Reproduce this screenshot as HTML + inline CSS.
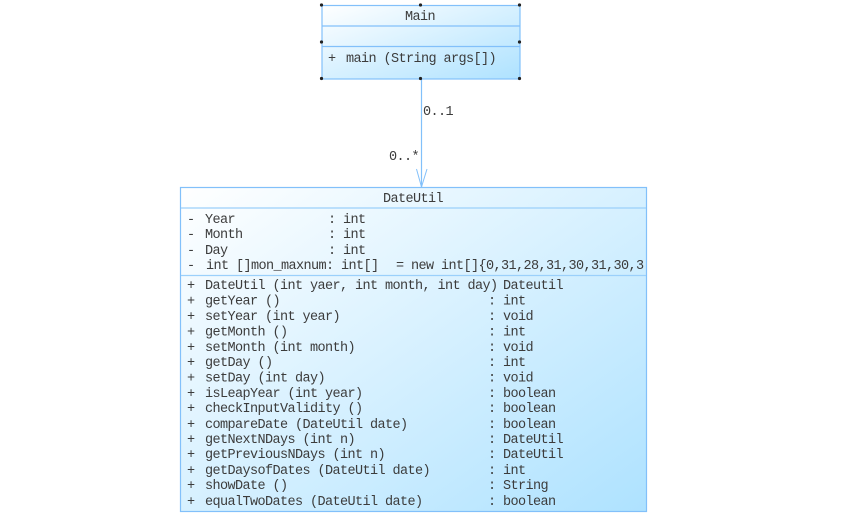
<!DOCTYPE html>
<html>
<head>
<meta charset="utf-8">
<style>
html,body{margin:0;padding:0;background:#fff;}
svg{display:block;}
text{font-family:"Liberation Mono",monospace;font-size:13.5px;letter-spacing:-0.6px;fill:#3c3c3c;white-space:pre;}
</style>
</head>
<body>
<svg width="865" height="515" viewBox="0 0 865 515" xmlns="http://www.w3.org/2000/svg">
<defs>
<linearGradient id="g1" x1="0" y1="0" x2="1" y2="1">
<stop offset="0" stop-color="#ffffff"/>
<stop offset="1" stop-color="#aee2ff"/>
</linearGradient>
<clipPath id="c"><rect x="181" y="188" width="465" height="323"/></clipPath>
</defs>

<!-- connector -->
<line x1="421.5" y1="79" x2="421.5" y2="187" stroke="#82c0fa" stroke-width="1.2"/>
<polyline points="416.5,169 421.5,187 427,169" fill="none" stroke="#82c0fa" stroke-width="1"/>
<text x="423" y="115">0..1</text>
<text x="389" y="160">0..*</text>

<!-- Main -->
<rect x="322" y="5.5" width="198" height="73.5" fill="url(#g1)" stroke="#82c0fa" stroke-width="1.2"/>
<line x1="322" y1="26" x2="520" y2="26" stroke="#82c0fa" stroke-width="1.2"/>
<line x1="322" y1="46.5" x2="520" y2="46.5" stroke="#82c0fa" stroke-width="1.2"/>
<text x="405" y="20">Main</text>
<text x="328" y="62">+</text>
<text x="346" y="62">main (String args[])</text>
<g fill="#222">
<circle cx="321.5" cy="5" r="1.6"/>
<circle cx="420.5" cy="5" r="1.6"/>
<circle cx="519.5" cy="5" r="1.6"/>
<circle cx="321.5" cy="42" r="1.6"/>
<circle cx="519.5" cy="42" r="1.6"/>
<circle cx="321.5" cy="78.500" r="1.6"/>
<circle cx="420.5" cy="78.500" r="1.6"/>
<circle cx="519.5" cy="78.500" r="1.6"/>
</g>

<!-- DateUtil -->
<rect x="180.500" y="187.500" width="466" height="324" fill="url(#g1)" stroke="#82c0fa" stroke-width="1.2"/>
<line x1="181" y1="208" x2="646" y2="208" stroke="#9bd0fb" stroke-width="1.2"/>
<line x1="181" y1="275.500" x2="646" y2="275.500" stroke="#9bd0fb" stroke-width="1.2"/>
<text x="383" y="202">DateUtil</text>

<g clip-path="url(#c)">
<text x="187" y="223">-</text><text x="205" y="223">Year</text><text x="328" y="223">: int</text>
<text x="187" y="238">-</text><text x="205" y="238">Month</text><text x="328" y="238">: int</text>
<text x="187" y="254">-</text><text x="205" y="254">Day</text><text x="328" y="254">: int</text>
<text x="187" y="269">-</text><text x="206" y="269">int []mon_maxnum: int[]</text><text x="396" y="269">= new int[]{0,31,28,31,30,31,30,3</text>

<text x="187" y="289">+</text><text x="205" y="289">DateUtil (int yaer, int month, int day)</text><text x="503" y="289">Dateutil</text>
<text x="187" y="304.500">+</text><text x="205" y="304.500">getYear ()</text><text x="488" y="304.500">: int</text>
<text x="187" y="320">+</text><text x="205" y="320">setYear (int year)</text><text x="488" y="320">: void</text>
<text x="187" y="335.500">+</text><text x="205" y="335.500">getMonth ()</text><text x="488" y="335.500">: int</text>
<text x="187" y="351">+</text><text x="205" y="351">setMonth (int month)</text><text x="488" y="351">: void</text>
<text x="187" y="366">+</text><text x="205" y="366">getDay ()</text><text x="488" y="366">: int</text>
<text x="187" y="381.500">+</text><text x="205" y="381.500">setDay (int day)</text><text x="488" y="381.500">: void</text>
<text x="187" y="397">+</text><text x="205" y="397">isLeapYear (int year)</text><text x="488" y="397">: boolean</text>
<text x="187" y="412">+</text><text x="205" y="412">checkInputValidity ()</text><text x="488" y="412">: boolean</text>
<text x="187" y="428">+</text><text x="205" y="428">compareDate (DateUtil date)</text><text x="488" y="428">: boolean</text>
<text x="187" y="443">+</text><text x="205" y="443">getNextNDays (int n)</text><text x="488" y="443">: DateUtil</text>
<text x="187" y="458">+</text><text x="205" y="458">getPreviousNDays (int n)</text><text x="488" y="458">: DateUtil</text>
<text x="187" y="474">+</text><text x="205" y="474">getDaysofDates (DateUtil date)</text><text x="488" y="474">: int</text>
<text x="187" y="489">+</text><text x="205" y="489">showDate ()</text><text x="488" y="489">: String</text>
<text x="187" y="505">+</text><text x="205" y="505">equalTwoDates (DateUtil date)</text><text x="488" y="505">: boolean</text>
</g>
</svg>
</body>
</html>
